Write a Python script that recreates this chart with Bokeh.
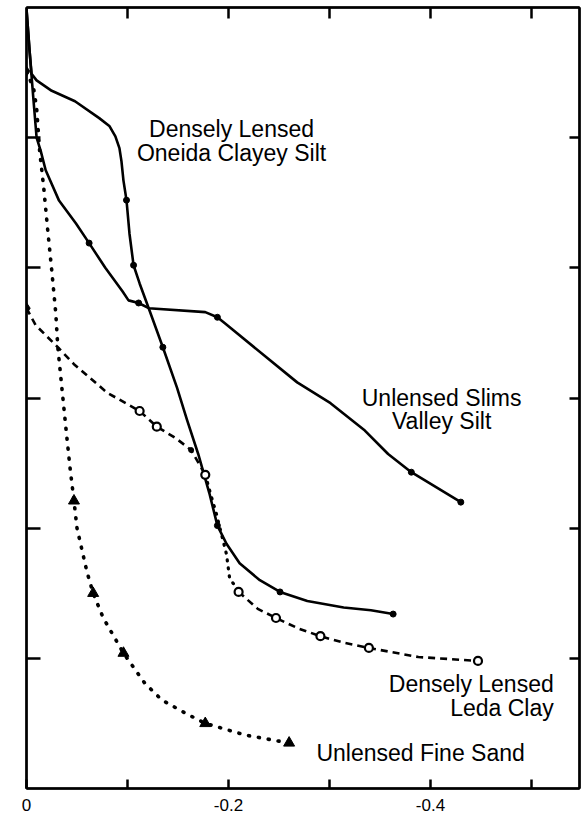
from bokeh.plotting import figure
from bokeh.models import Range1d, LinearAxis, FixedTicker, Label, CustomJSTickFormatter
from bokeh.embed import file_html
from bokeh.resources import INLINE

# ---- data ----
oneida_x = [0.0, -0.003, -0.005, -0.010, -0.025, -0.048, -0.072, -0.082, -0.088, -0.092, -0.094,
            -0.096, -0.099, -0.102, -0.106, -0.112, -0.121, -0.135, -0.149, -0.159, -0.170,
            -0.181, -0.189, -0.198, -0.211, -0.231, -0.251, -0.278, -0.314, -0.341, -0.363]
oneida_y = [5.99, 5.67, 5.49, 5.44, 5.36, 5.28, 5.15, 5.09, 5.01, 4.92, 4.82,
            4.67, 4.52, 4.26, 4.02, 3.88, 3.69, 3.39, 3.08, 2.83, 2.57,
            2.27, 2.02, 1.88, 1.73, 1.60, 1.51, 1.44, 1.39, 1.37, 1.34]
oneida_marks = [12, 14, 17, 22, 26, 30]

slims_x = [0.0, -0.003, -0.007, -0.010, -0.014, -0.019, -0.032, -0.049, -0.062, -0.078, -0.095,
           -0.101, -0.111, -0.121, -0.177, -0.189, -0.197, -0.268, -0.301, -0.335, -0.358,
           -0.381, -0.430]
slims_y = [5.99, 5.67, 5.28, 5.00, 4.90, 4.75, 4.52, 4.34, 4.19, 4.00, 3.82,
           3.75, 3.73, 3.69, 3.66, 3.62, 3.57, 3.12, 2.96, 2.75, 2.57,
           2.43, 2.20]
slims_marks = [8, 12, 15, 21, 22]

leda_x = [0.0, -0.009, -0.031, -0.047, -0.080, -0.112, -0.129, -0.148, -0.163, -0.177, -0.182,
          -0.188, -0.198, -0.201, -0.210, -0.229, -0.247, -0.269, -0.291, -0.314, -0.339,
          -0.388, -0.447]
leda_y = [3.69, 3.56, 3.39, 3.26, 3.04, 2.90, 2.78, 2.69, 2.60, 2.41, 2.27,
          2.11, 1.80, 1.62, 1.51, 1.38, 1.31, 1.23, 1.17, 1.12, 1.08,
          1.01, 0.98]
leda_open_marks = [5, 6, 9, 14, 16, 18, 20, 22]
leda_dot_part = (9, 14)   # stretch drawn dotted

sand_x = [0.0, -0.007, -0.010, -0.013, -0.017, -0.021, -0.025, -0.029, -0.031, -0.035, -0.039,
          -0.043, -0.047, -0.050, -0.060, -0.066, -0.076, -0.096, -0.117, -0.134, -0.157,
          -0.177, -0.217, -0.260]
sand_y = [5.51, 5.38, 5.23, 4.90, 4.62, 4.29, 3.98, 3.65, 3.39, 3.08, 2.77,
          2.47, 2.21, 2.00, 1.66, 1.50, 1.31, 1.04, 0.81, 0.68, 0.58,
          0.50, 0.41, 0.35]
sand_marks = [12, 15, 17, 21, 23]

x_ticks = [0, -0.1, -0.2, -0.3, -0.4, -0.5]
x_label_vals = [0, -0.2, -0.4]
x_label_texts = ["0", "-0.2", "-0.4"]
y_ticks = [1, 2, 3, 4, 5]

FONT = "Liberation Sans"

p = figure(width=581, height=819, x_range=Range1d(0, -0.5475), y_range=Range1d(0, 6.0),
           output_backend="svg", toolbar_location=None,
           min_border_left=26, min_border_right=2, min_border_top=7, min_border_bottom=31)
p.xgrid.visible = False
p.ygrid.visible = False
p.outline_line_color = "black"
p.outline_line_width = 2
p.background_fill_color = "white"
p.border_fill_color = "white"

blank = CustomJSTickFormatter(code="return '';")


def style_axis(ax, tick_in):
    ax.axis_line_width = 2.5
    ax.axis_line_color = "black"
    ax.major_tick_in = tick_in
    ax.major_tick_out = 0
    ax.major_tick_line_width = 2.5
    ax.major_tick_line_color = "black"
    ax.minor_tick_line_color = None
    ax.major_label_standoff = 0


bottom = p.below[0]
style_axis(bottom, 9)
bottom.ticker = FixedTicker(ticks=x_ticks)
bottom.formatter = CustomJSTickFormatter(
    args=dict(vals=x_label_vals, labs=x_label_texts),
    code="for (let i = 0; i < vals.length; i++) { if (Math.abs(tick - vals[i]) < 1e-6) return labs[i]; } return '';")
bottom.major_label_standoff = 10
bottom.major_label_text_font = FONT
bottom.major_label_text_font_size = "17px"
bottom.major_label_text_color = "black"

left = p.left[0]
style_axis(left, 14)
left.ticker = FixedTicker(ticks=y_ticks)
left.formatter = blank

top = LinearAxis(ticker=FixedTicker(ticks=x_ticks[1:]), formatter=blank)
style_axis(top, 11)
p.add_layout(top, "above")

right = LinearAxis(ticker=FixedTicker(ticks=y_ticks), formatter=blank)
style_axis(right, 10)
p.add_layout(right, "right")

# ---- curves ----
LW = 2.6
p.line(oneida_x, oneida_y, line_color="black", line_width=LW, line_join="round")
p.scatter([oneida_x[i] for i in oneida_marks], [oneida_y[i] for i in oneida_marks],
          marker="circle", size=6, fill_color="black", line_color="black")

p.line(slims_x, slims_y, line_color="black", line_width=LW, line_join="round")
p.scatter([slims_x[i] for i in slims_marks], [slims_y[i] for i in slims_marks],
          marker="circle", size=6, fill_color="black", line_color="black")

a, b = leda_dot_part
p.line(leda_x[:a + 1], leda_y[:a + 1], line_color="black", line_width=2.6, line_dash="7 5")
p.line(leda_x[a:b + 1], leda_y[a:b + 1], line_color="black", line_width=3.2,
       line_dash="1 7", line_cap="round")
p.line(leda_x[b:], leda_y[b:], line_color="black", line_width=2.6, line_dash="7 5")
p.scatter([leda_x[0]], [leda_y[0]], marker="diamond", size=11, fill_color="black", line_color="black")
p.scatter([leda_x[8]], [leda_y[8]], marker="circle", size=5, fill_color="black", line_color="black")
p.scatter([leda_x[i] for i in leda_open_marks], [leda_y[i] for i in leda_open_marks],
          marker="circle", size=8, fill_color="white", line_color="black", line_width=2.2)

p.line(sand_x, sand_y, line_color="black", line_width=3.6, line_dash="1 9", line_cap="round")
p.scatter([sand_x[0]], [sand_y[0]], marker="diamond", size=10, fill_color="black", line_color="black")
p.scatter([sand_x[i] for i in sand_marks], [sand_y[i] for i in sand_marks],
          marker="triangle", size=11, fill_color="black", line_color="black")

# ---- curve labels ----
def add_label(x, y, text, align):
    p.add_layout(Label(x=x, y=y, text=text, text_font=FONT, text_font_size="23px",
                       text_color="black", text_align=align, text_baseline="alphabetic"))


add_label(-0.203, 5.07, "Densely Lensed", "center")
add_label(-0.203, 4.885, "Oneida Clayey Silt", "center")
add_label(-0.411, 3.003, "Unlensed Slims", "center")
add_label(-0.411, 2.826, "Valley Silt", "center")
add_label(-0.522, 0.806, "Densely Lensed", "right")
add_label(-0.522, 0.622, "Leda Clay", "right")
add_label(-0.287, 0.269, "Unlensed Fine Sand", "left")

open("out.html", "w").write(file_html(p, INLINE))
